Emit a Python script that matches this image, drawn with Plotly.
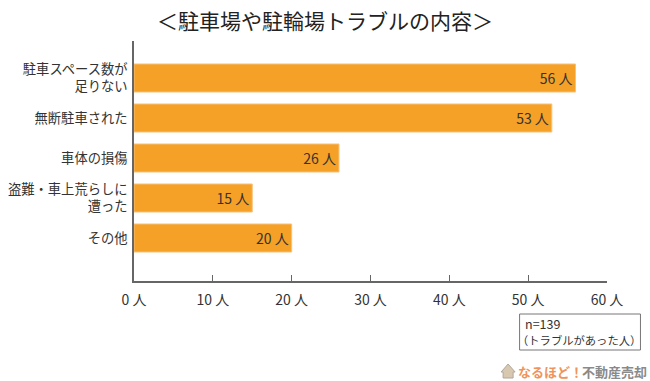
import plotly.graph_objects as go

categories = ["駐車スペース数が<br>足りない", "無断駐車された", "車体の損傷", "盗難・車上荒らしに<br>遭った", "その他"]
values = [56, 53, 26, 15, 20]
value_labels = ["56 人", "53 人", "26 人", "15 人", "20 人"]
x_ticks = [0, 10, 20, 30, 40, 50, 60]
x_tick_labels = ["0 人", "10 人", "20 人", "30 人", "40 人", "50 人", "60 人"]
title_text = "＜駐車場や駐輪場トラブルの内容＞"
note_line1 = "n=139"
note_line2 = "（トラブルがあった人）"

FONT = "Noto Sans CJK JP"
W, H = 650, 381
L, R, T, B = 133.5, 43, 41, 100
px = lambda v: (v - L) / (W - L - R)
py = lambda v: (H - B - v) / (H - T - B)

fig = go.Figure(go.Bar(
    y=categories, x=values, orientation="h", width=0.7,
    marker=dict(color="#F5A026", line=dict(color="#F9C078", width=1)),
    text=value_labels, textposition="inside", insidetextanchor="end",
    textangle=0,
    textfont=dict(family=FONT, size=14, color="#333333"),
    cliponaxis=False, hoverinfo="skip",
))

annotations = [
    dict(x=px(325), y=py(20), xref="paper", yref="paper", text=title_text, showarrow=False,
         font=dict(family=FONT, size=21, color="#222222"), xanchor="center", yanchor="middle"),
    dict(x=px(523), y=py(323), xref="paper", yref="paper", text=note_line1, showarrow=False,
         font=dict(family=FONT, size=12.5, color="#333333"), xanchor="left", yanchor="middle"),
    dict(x=px(515), y=py(339.5), xref="paper", yref="paper", text=note_line2, showarrow=False,
         font=dict(family=FONT, size=11.3, color="#333333"), xanchor="left", yanchor="middle"),
    dict(x=px(516), y=py(371), xref="paper", yref="paper", text="<b>なるほど！</b>", showarrow=False,
         font=dict(family=FONT, size=13, color="#F0935A"), xanchor="left", yanchor="middle"),
    dict(x=px(580), y=py(371), xref="paper", yref="paper", text="<b>不動産売却</b>", showarrow=False,
         font=dict(family=FONT, size=13, color="#8A8A8A"), xanchor="left", yanchor="middle"),
]

shapes = [
    dict(type="rect", xref="paper", yref="paper", x0=px(519.5), x1=px(640.5), y0=py(314), y1=py(350),
         line=dict(color="#777777", width=1), fillcolor="white", layer="below"),
    dict(type="path", xref="paper", yref="paper",
         path=f"M {px(501)} {py(372)} L {px(508)} {py(364)} L {px(515)} {py(372)} L {px(513)} {py(372)} "
              f"L {px(513)} {py(378)} L {px(503)} {py(378)} L {px(503)} {py(372)} Z",
         line=dict(color="#B0A89A", width=1), fillcolor="#D8C8B0"),
]

fig.update_layout(
    width=W, height=H, autosize=False, showlegend=False,
    paper_bgcolor="white", plot_bgcolor="white",
    margin=dict(l=L, r=R, t=T, b=B),
    annotations=annotations, shapes=shapes,
    xaxis=dict(range=[0, 60], tickvals=x_ticks, ticktext=x_tick_labels, ticks="inside", ticklen=6,
               automargin=False,
               tickcolor="#666666", tickwidth=1, showgrid=False, zeroline=False,
               showline=True, linecolor="#666666", linewidth=1.5, ticklabelstandoff=5,
               tickfont=dict(family=FONT, size=14, color="#333333")),
    yaxis=dict(type="category", categoryorder="array", categoryarray=categories,
               automargin=False,
               range=[5.075, -0.925], ticks="", showgrid=False, zeroline=False,
               showline=True, linecolor="#666666", linewidth=1.5, ticklabelstandoff=2,
               tickfont=dict(family=FONT, size=13.3, color="#333333")),
)

fig.write_html("out.html", config={"displayModeBar": False}, post_script="document.body.style.margin='0';")
